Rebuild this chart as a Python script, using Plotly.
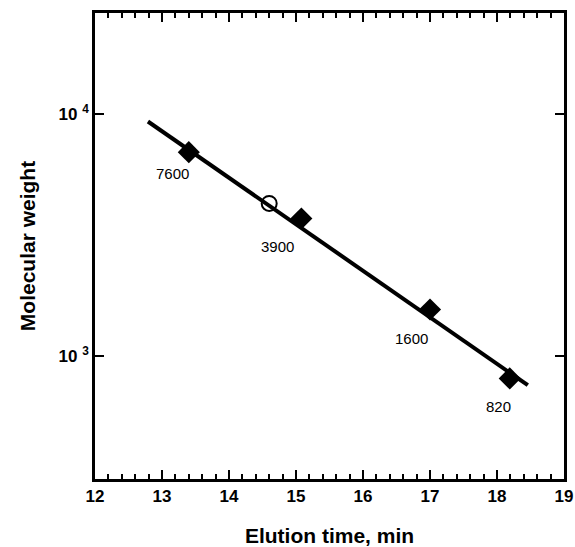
import plotly.graph_objects as go
import math

# Data
std_time = [13.40, 15.08, 17.00, 18.19]
std_mw = [6950, 3700, 1560, 811]
std_labels = ["7600", "3900", "1600", "820"]

unknown_time = [14.60]
unknown_mw = [4270]

fit_time = [12.79, 18.46]
fit_mw = [9300, 760]

x_ticks = [12, 13, 14, 15, 16, 17, 18, 19]
y_ticks = [1000, 10000]
y_ticktext = ["10 <sup>3</sup>", "10 <sup>4</sup>"]

FONT = "Liberation Sans, Arial, Helvetica, sans-serif"

fig = go.Figure()
fig.add_trace(go.Scatter(x=fit_time, y=fit_mw, mode="lines",
                         line=dict(color="black", width=4), showlegend=False))
fig.add_trace(go.Scatter(x=std_time, y=std_mw, mode="markers",
                         marker=dict(symbol="diamond", size=17, color="black"),
                         showlegend=False))
fig.add_trace(go.Scatter(x=unknown_time, y=unknown_mw, mode="markers",
                         marker=dict(symbol="circle-open", size=15, color="black",
                                     line=dict(width=2)),
                         showlegend=False))

shifts = [(-16, -21), (-24, -28), (-19, -29), (-11, -28)]
for t, m, lab, (dx, dy) in zip(std_time, std_mw, std_labels, shifts):
    fig.add_annotation(x=t, y=math.log10(m), text=lab, showarrow=False,
                       xshift=dx, yshift=dy,
                       font=dict(family=FONT, size=15, color="black"))

fig.update_xaxes(range=[12, 19], tickvals=x_ticks, ticks="inside", ticklen=9,
                 tickwidth=2, tickcolor="black", showline=True, linewidth=2.5,
                 linecolor="black", mirror="ticks", showgrid=False, zeroline=False,
                 automargin=False,
                 minor=dict(dtick=0.2, ticks="inside", ticklen=5, tickwidth=2,
                            tickcolor="black", showgrid=False),
                 tickfont=dict(family=FONT, size=17, color="black", weight="bold"),
                 title=dict(text="Elution time, min", standoff=24,
                            font=dict(family=FONT, size=21, color="black", weight="bold")))
fig.update_yaxes(type="log", range=[2.494, 4.416], tickvals=y_ticks, ticktext=y_ticktext,
                 ticks="inside", ticklen=9, tickwidth=2, tickcolor="black",
                 showline=True, linewidth=2.5, linecolor="black", mirror="ticks",
                 showgrid=False, zeroline=False, automargin=False,
                 tickfont=dict(family=FONT, size=17, color="black", weight="bold"),
                 title=dict(text="Molecular weight", standoff=18,
                            font=dict(family=FONT, size=21, color="black", weight="bold")))

fig.update_layout(width=575, height=547, margin=dict(l=95, r=11, t=13, b=68),
                  plot_bgcolor="white", paper_bgcolor="white")

fig.write_html("out.html", config={"displayModeBar": False},
               post_script="document.body.style.margin='0px';document.body.style.padding='0px';")
